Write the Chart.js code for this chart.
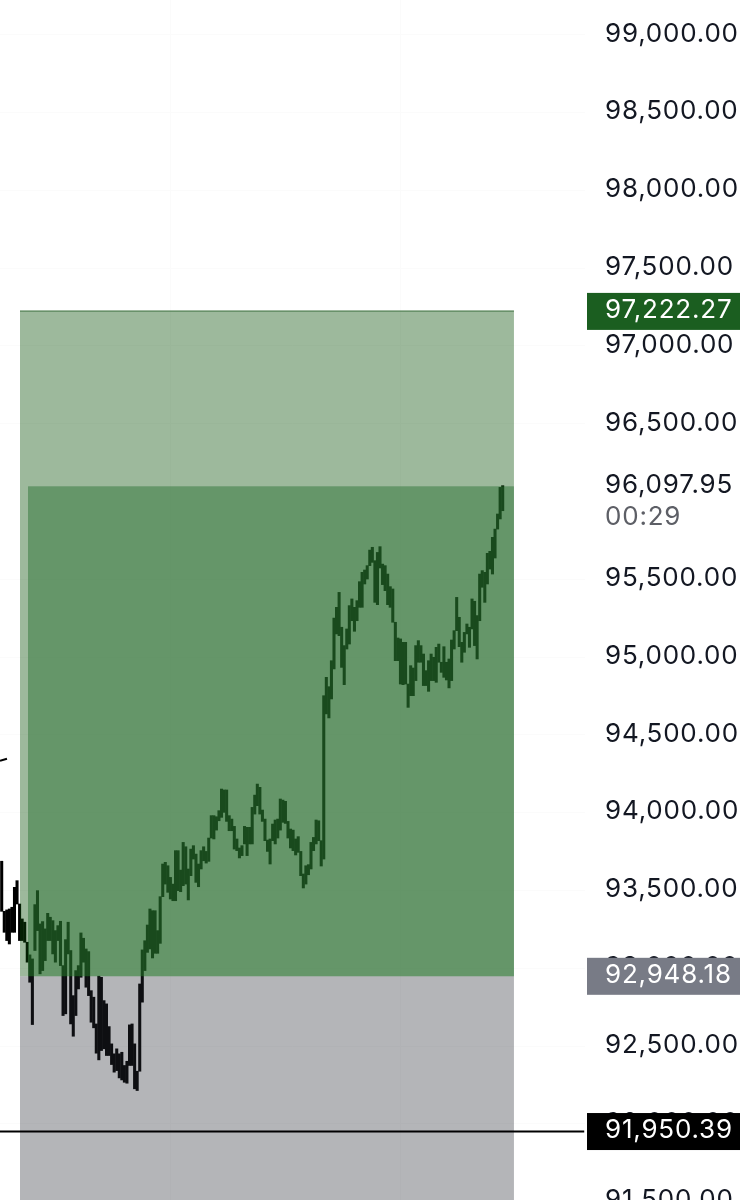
<!DOCTYPE html>
<html>
<head>
<meta charset="utf-8">
<title>BTC bars</title>
<script src="https://cdn.jsdelivr.net/npm/chart.js@4"></script>
<style>
    html, body { margin: 0; padding: 0; background: #fff; width: 740px; height: 1200px; overflow: hidden; }
    canvas { display: block; }
</style>
</head>
<body>
<canvas id="chart" width="740" height="1210"></canvas>
<script>
// bar highs and lows, left to right
const highs = [
    93688, 93366, 93375, 93381, 93392, 93520, 93563, 93413, 93317, 93296,
    93167, 93086, 93060, 93409, 93499, 93285, 93300, 93253, 93353, 93328,
    93306, 93242, 93274, 93302, 93017, 93184, 93296, 93114, 92824, 92985,
    93017, 93227, 93193, 93124, 93107, 92856, 92814, 92642, 92949, 92942,
    92792, 92771, 92625, 92514, 92450, 92482, 92450, 92460, 92375, 92402,
    92636, 92642, 92514, 92338, 92899, 93118,
    93177, 93278, 93381, 93370, 93370, 93242, 93460, 93670, 93681, 93659,
    93584, 93541, 93756, 93756, 93631, 93809, 93781, 93638, 93766, 93788,
    93734, 93670, 93756, 93781, 93751, 93837, 93981, 93981, 93974, 94013,
    94152, 94146, 94146, 93981, 93959, 93912, 93831, 93773, 93788, 93912,
    93906, 93906, 94034, 94113, 94184, 94163, 94017, 93959, 93824, 93831,
    93927, 93953, 93959, 94088, 94081, 94073, 93944, 93895, 93888, 93831,
    93846, 93751, 93606, 93659, 93666, 93809, 93841, 93953, 93948, 93820,
    94752,
    94870, 94810, 94977, 95251, 95320, 95416, 95192, 95074, 95181, 95331,
    95374, 95320, 95363, 95485, 95545, 95560, 95588, 95688, 95706, 95620,
    95673, 95710, 95598, 95588, 95534, 95453, 95438, 95224, 95123, 95117,
    95095, 95095, 94827, 94945, 94930, 95074, 95106, 95074, 95020, 94913,
    94977, 95020, 94999, 95063, 95084, 94967, 95067, 94967, 94988, 95110,
    95170, 95384, 95256, 95095, 95159, 95213, 95192, 95374, 95359, 95267,
    95534, 95556, 95545, 95667, 95680, 95770, 95823, 95920, 96091, 96102
];
const lows = [
    93366, 93231, 93178, 93156, 93231, 93231, 93413, 93178, 93178, 93167,
    93039, 92910, 92638, 93114, 93242, 92964, 92985, 93049, 93178, 93178,
    93092, 93039, 93178, 93017, 92696, 92707, 93092, 92642, 92563, 92696,
    92867, 92942, 93039, 92878, 92824, 92653, 92617, 92454, 92411, 92471,
    92482, 92439, 92439, 92381, 92332, 92342, 92295, 92282, 92267, 92261,
    92375, 92375, 92225, 92214, 92338, 92782,
    92985, 93102, 93124, 93066, 93096, 93096, 93160, 93460, 93541, 93488,
    93445, 93434, 93434, 93499, 93492, 93531, 93541, 93439, 93595, 93702,
    93552, 93524, 93638, 93691, 93676, 93687, 93837, 93831, 93888, 93948,
    93970, 94002, 93944, 93884, 93884, 93766, 93756, 93709, 93724, 93799,
    93724, 93799, 93799, 93991, 94045, 93991, 93944, 93820, 93751, 93670,
    93820, 93799, 93837, 93888, 93938, 93931, 93837, 93773, 93756, 93728,
    93745, 93595, 93516, 93541, 93601, 93638, 93756, 93799, 93820, 93657,
    93702,
    94635, 94609, 94731, 94924, 95149, 95138, 94934, 94823, 95052, 95084,
    95234, 95166, 95234, 95320, 95320, 95470, 95502, 95588, 95609, 95352,
    95337, 95573, 95466, 95427, 95337, 95320, 95224, 94977, 94977, 94827,
    94823, 94827, 94677, 94752, 94752, 94849, 94967, 94967, 94817, 94817,
    94780, 94849, 94849, 94838, 94967, 94902, 94870, 94853, 94802, 94849,
    95052, 95170, 95067, 94967, 95031, 95149, 95063, 95181, 95074, 94988,
    95234, 95449, 95352, 95470, 95566, 95534, 95637, 95823, 95888, 95941
];

// price axis
const tickValues = [99000, 98500, 98000, 97500, 97000, 96500, 95500, 95000, 94500, 94000, 93500, 93000, 92500, 92000, 91500];
const gridColumns = [66, 156];

// level prices
const targetPrice = 97222.27;
const lastPrice = 96097.95;
const entryPrice = 92948.18;
const stopPrice = 91950.39;
const countdown = '00:29';

// axis windows, in bar indexes and price
const xMin = -0.665;
const xMax = 228.2;
const yMax = 99224;
const yMin = 91446;

// short piece of an older line at the top left
const stubX = [-0.665, 2.07];
const stubY = [94334, 94347];

const zones = [
    { x0: 7.16, x1: 200.4, top: targetPrice, bottom: entryPrice, color: 'rgba(10, 80, 7, 0.4)' },
    { x0: 10.29, x1: 200.4, top: lastPrice, bottom: entryPrice, color: 'rgba(45, 115, 56, 0.5)' },
    { x0: 7.16, x1: 200.4, top: entryPrice, bottom: yMin, color: 'rgba(40, 42, 52, 0.35)' }
];

const priceBoxes = [
    { value: targetPrice, bg: '#1b5e20' },
    { value: entryPrice, bg: '#787b86' },
    { value: stopPrice, bg: '#000000' }
];

const fontFamily = 'Inter, "Liberation Sans", sans-serif';
const fmt = v => v.toLocaleString('en-US', { minimumFractionDigits: 2, maximumFractionDigits: 2 });

// zones go over the bars, that is what tints them green
const zonePlugin = {
    id: 'zones',
    beforeDraw(chart) {
        // stays on the base state, so the axis labels get it too
        chart.ctx.letterSpacing = '0.8px';
        // tick text sits a pixel above its price in the reference
        chart.scales.y.getLabelItems().forEach(item => {
            item.options.translation[1] -= 1;
        });
    },
    afterDatasetDraw(chart, args) {
        if (args.index !== 0) return;
        const { ctx, scales: { x, y } } = chart;
        ctx.save();
        zones.forEach(z => {
            const left = x.getPixelForValue(z.x0);
            const right = x.getPixelForValue(z.x1);
            const top = y.getPixelForValue(z.top);
            const bottom = y.getPixelForValue(z.bottom);
            ctx.fillStyle = z.color;
            ctx.fillRect(left, top, right - left, bottom - top);
        });
        // darker edge on top of the target zone
        const edge = y.getPixelForValue(targetPrice);
        ctx.fillStyle = '#5f8a60';
        ctx.fillRect(x.getPixelForValue(zones[0].x0), edge - 1, x.getPixelForValue(zones[0].x1) - x.getPixelForValue(zones[0].x0), 1.5);
        ctx.restore();
    }
};

const labelPlugin = {
    id: 'priceLabels',
    afterDraw(chart) {
        const { ctx, scales: { y } } = chart;
        ctx.save();
        ctx.font = '26px ' + fontFamily;
        ctx.textAlign = 'left';
        ctx.textBaseline = 'middle';
        priceBoxes.forEach(b => {
            const py = y.getPixelForValue(b.value);
            ctx.fillStyle = b.bg;
            ctx.fillRect(587, py - 18.5, 153, 37);
            ctx.fillStyle = '#ffffff';
            ctx.fillText(fmt(b.value), 605, py - 1);
        });
        const py = y.getPixelForValue(lastPrice);
        ctx.fillStyle = '#131722';
        ctx.fillText(fmt(lastPrice), 605, py - 1);
        ctx.fillStyle = '#5d5f66';
        ctx.fillText(countdown, 605, py + 31);
        ctx.restore();
    }
};

new Chart(document.getElementById('chart').getContext('2d'), {
    data: {
        datasets: [
            {
                type: 'bar',
                order: 2,
                data: highs.map((h, i) => ({ x: i, y: [lows[i], h] })),
                backgroundColor: '#000000',
                barThickness: 2.4,
                borderWidth: 0
            },
            {
                type: 'line',
                order: 1,
                data: [{ x: xMin, y: stopPrice }, { x: xMax - 0.3, y: stopPrice }],
                borderColor: '#000000',
                borderWidth: 2,
                pointRadius: 0
            },
            {
                type: 'line',
                order: 1,
                data: stubX.map((x, i) => ({ x: x, y: stubY[i] })),
                borderColor: '#000000',
                borderWidth: 2,
                pointRadius: 0
            }
        ]
    },
    options: {
        responsive: false,
        animation: false,
        devicePixelRatio: 1,
        layout: { padding: 0 },
        plugins: { legend: { display: false }, tooltip: { enabled: false } },
        scales: {
            x: {
                type: 'linear',
                offset: false,
                min: xMin,
                max: xMax,
                border: { display: false },
                grid: { color: '#fbfbfb', drawTicks: false, offset: false },
                ticks: { display: false },
                afterBuildTicks(scale) {
                    scale.ticks = gridColumns.map(v => ({ value: v }));
                },
                afterFit(scale) {
                    scale.height = 0;
                }
            },
            y: {
                position: 'right',
                min: yMin,
                max: yMax,
                border: { display: false },
                grid: { color: '#fbfbfb', drawTicks: false },
                ticks: {
                    autoSkip: false,
                    padding: 20,
                    crossAlign: 'near',
                    color: '#131722',
                    font: { family: fontFamily, size: 26 },
                    callback: v => fmt(v)
                },
                afterBuildTicks(scale) {
                    scale.ticks = tickValues.map(v => ({ value: v }));
                },
                afterFit(scale) {
                    scale.width = 155;
                    scale.paddingTop = 0;
                    scale.paddingBottom = 0;
                }
            }
        }
    },
    plugins: [zonePlugin, labelPlugin]
});
</script>
</body>
</html>
